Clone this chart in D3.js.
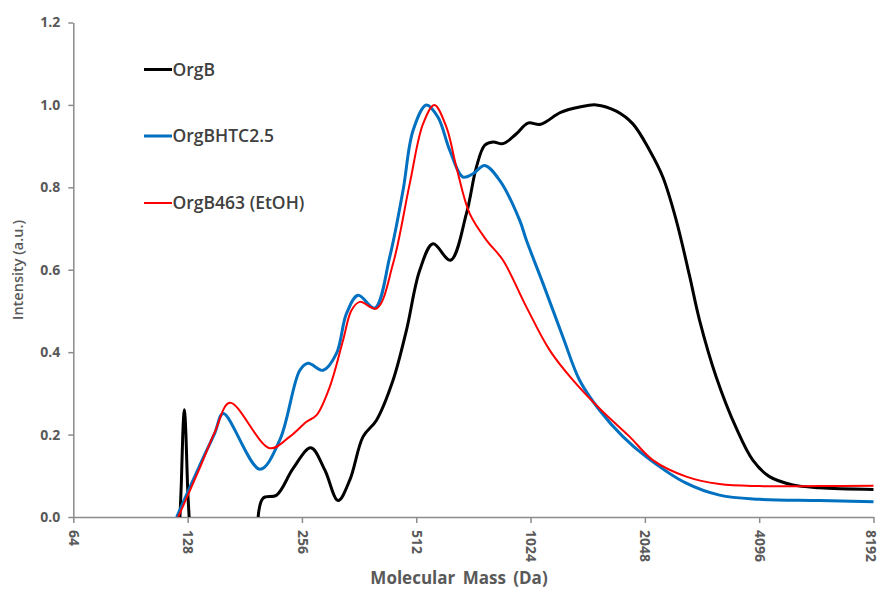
<!DOCTYPE html>
<html><head><meta charset="utf-8">
<script src="https://cdn.jsdelivr.net/npm/d3@7/dist/d3.min.js"></script>
<style>
body{margin:0;background:#fff;}
svg{display:block;}
text{font-family:"Open Sans","Liberation Sans",sans-serif;}
</style></head>
<body>
<svg id="chart" width="882" height="593"></svg>
<script>
// ---- data (mass in Da, intensity in a.u.) ----
const xTicks = [64,128,256,512,1024,2048,4096,8192];
const yTicks = [0,0.2,0.4,0.6,0.8,1.0,1.2];
const seriesNames = ["OrgB","OrgBHTC2.5","OrgB463 (EtOH)"];
const seriesColors = ["#000000","#0070C0","#FF0000"];

const orgBSpikeMass = [122.2,123.2,124.3,125.5,126.7,127.9,129.2];
const orgBSpikeInt  = [0,0.08,0.2,0.26,0.2,0.08,0];

const orgBMass = [196.3,202.4,219.5,242.7,270.2,294.1,318.8,342.3,370.9,402.3,444.1,482.4,523,566.9,629.9,694,737.3,775.5,815.2,866.5,939.7,1007.9,1088.4,1229,1378.6,1525.5,1721.9,1904.4,2107,2283.6,2477.3,2685.6,2852.4,3156.2,3563,3940.3,4359.8,5022,5902,8192];
const orgBInt  = [0,0.046,0.053,0.118,0.168,0.114,0.04,0.09,0.195,0.235,0.33,0.453,0.599,0.663,0.623,0.736,0.849,0.902,0.91,0.906,0.93,0.956,0.953,0.982,0.995,1.0,0.985,0.954,0.89,0.825,0.72,0.585,0.478,0.34,0.216,0.138,0.098,0.078,0.071,0.067];

const htcMass = [119.8,137.9,151.1,158.8,198.4,223.9,252.8,265.7,291.1,315.7,335.5,359.8,398.1,436,472.7,502.2,544.6,584.3,627.2,680,722.3,775.5,849.2,958.9,998.1,1103.9,1245.9,1378.6,1556.4,1792.8,2065.2,2632.1,3220.6,4103.4,5902,8192];
const htcInt  = [0,0.126,0.205,0.251,0.116,0.187,0.356,0.373,0.356,0.397,0.494,0.538,0.507,0.631,0.793,0.938,1.0,0.97,0.89,0.825,0.833,0.853,0.817,0.72,0.672,0.567,0.437,0.332,0.259,0.195,0.146,0.082,0.053,0.043,0.04,0.037];

const etohMass = [120.9,137.9,151.1,165.4,210.8,237.9,263.2,279.7,303.1,328.5,345.8,363.5,402.3,444.9,492.2,533.5,571.4,614.8,653.1,708.1,783.4,866.5,998.1,1149.5,1324.1,1572.7,1866.5,2149.8,2632.1,3220.6,4103.4,5902,8192];
const etohInt  = [0,0.12,0.207,0.277,0.167,0.195,0.231,0.247,0.316,0.429,0.502,0.522,0.506,0.615,0.809,0.954,1.0,0.946,0.849,0.736,0.672,0.623,0.51,0.405,0.332,0.259,0.195,0.138,0.098,0.08,0.075,0.075,0.076];

// ---- layout ----
const svg = d3.select("#chart");
const x = d3.scaleLog().base(2).domain([64,8192]).range([73.3,873.5]);
const y = d3.scaleLinear().domain([0,1.2]).range([517,22.5]);
const axisColor = "#8c8c8c", textColor = "#595959";

svg.append("defs").append("clipPath").attr("id","clip")
  .append("rect").attr("x",73.3).attr("y",15).attr("width",802).attr("height",502);

// axes
const gx = svg.append("g").attr("transform","translate(0,517)")
  .call(d3.axisBottom(x).tickValues(xTicks).tickFormat(d3.format("d")).tickSize(6).tickSizeOuter(0));
gx.selectAll("text")
  .attr("x",0).attr("y",0).attr("dy","0.35em")
  .attr("transform","translate(0,13) rotate(90)")
  .style("text-anchor","start");
const gy = svg.append("g").attr("transform","translate(73.3,0)")
  .call(d3.axisLeft(y).tickValues(yTicks).tickFormat(d3.format(".1f")).tickSize(5).tickSizeOuter(0));
gy.selectAll("text").attr("x",-13);
[gx,gy].forEach(g=>{
  g.select(".domain").attr("stroke",axisColor).attr("stroke-width",1.5);
  g.selectAll(".tick line").attr("stroke",axisColor).attr("stroke-width",1.5);
  g.selectAll(".tick text").attr("fill",textColor).style("font-size","14px").style("font-weight","700").style("font-family","'Open Sans',sans-serif");
});
// keep the last rotated label inside the picture (rotated: larger dy moves it left)
gx.selectAll(".tick text").filter(d=>d===8192).attr("dy","0.6em");

// lines
const smooth = d3.line().x(d=>x(d[0])).y(d=>y(d[1])).curve(d3.curveCatmullRom.alpha(0.5));
const mono = d3.line().x(d=>x(d[0])).y(d=>y(d[1])).curve(d3.curveMonotoneX);
const zip = (a,b)=>a.map((v,i)=>[v,b[i]]);
const plot = svg.append("g").attr("clip-path","url(#clip)");
const seriesData = [
  {pts:[[zip(orgBSpikeMass,orgBSpikeInt),mono], [zip(orgBMass,orgBInt),smooth]], color:seriesColors[0], w:3},
  {pts:[[zip(htcMass,htcInt),smooth]], color:seriesColors[1], w:3},
  {pts:[[zip(etohMass,etohInt),smooth]], color:seriesColors[2], w:2}
];
seriesData.forEach(s=>{
  s.pts.forEach(([p,gen])=>{
    plot.append("path").datum(p).attr("d",gen).attr("fill","none")
      .attr("stroke",s.color).attr("stroke-width",s.w).attr("stroke-linejoin","round");
  });
});

// legend
const legY = [69.5,136,203];
seriesNames.forEach((n,i)=>{
  svg.append("line").attr("x1",144).attr("x2",172).attr("y1",legY[i]).attr("y2",legY[i])
    .attr("stroke",seriesColors[i]).attr("stroke-width",seriesData[i].w);
  svg.append("text").attr("x",172.5).attr("y",legY[i]).attr("dy","0.35em")
    .attr("fill","#404040").style("font-size","17.5px").style("font-weight","600").text(n);
});

// axis titles
svg.append("text").attr("x",459).attr("y",584).attr("text-anchor","middle")
  .attr("fill",textColor).style("font-size","17px").style("font-weight","700")
  .style("word-spacing","3px").text("Molecular Mass (Da)");
svg.append("text").attr("transform","translate(23,270) rotate(-90)").attr("text-anchor","middle")
  .attr("fill",textColor).style("font-size","14.5px").style("font-weight","600").text("Intensity (a.u.)");
</script>
</body></html>
